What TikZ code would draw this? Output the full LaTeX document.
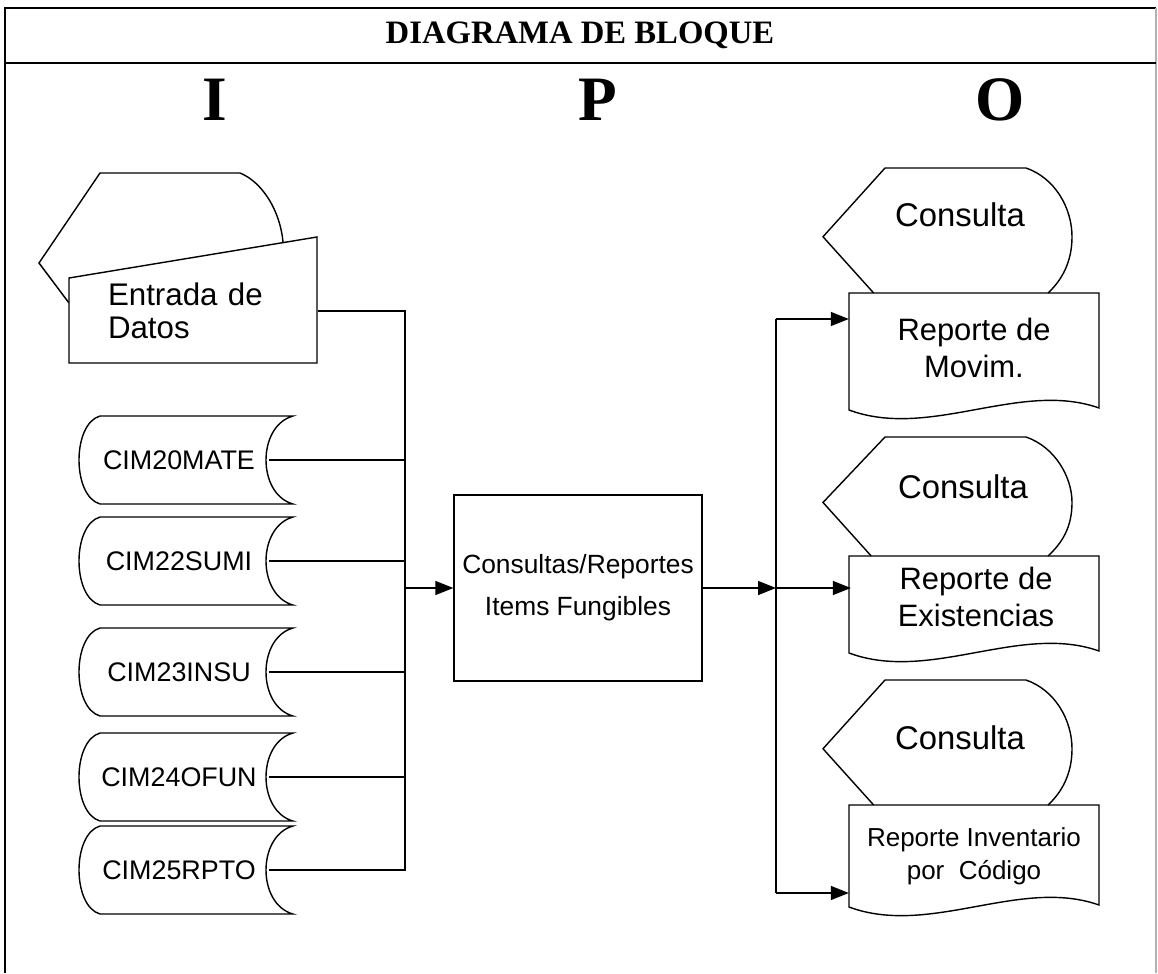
\documentclass[tikz,border=0pt]{standalone}
\usepackage{fontspec}
\setmainfont{Liberation Serif}
\newfontfamily\arialfam{Liberation Sans}
\usetikzlibrary{arrows.meta, positioning}

\tikzset{
    flecha/.style={-{Triangle[length=0.36cm, width=0.28cm]}},
    letra/.style={font=\bfseries\fontsize{36}{38}\selectfont, inner sep=0pt},
    archivo/.style={font=\arialfam\fontsize{15.3}{18}\selectfont, minimum width=3.56cm, inner sep=0pt},
    consulta/.style={font=\arialfam\fontsize{18.7}{22}\selectfont, inner sep=0pt},
    reporte/.style={font=\arialfam\fontsize{17.6}{21}\selectfont, minimum width=4.98cm, inner sep=0pt, align=center},
}

\begin{document}
\begin{tikzpicture}[x=0.02cm, y=-0.02cm, line width=0.8pt]
    \useasboundingbox (0,0) rectangle (1158,973);
    \draw[line width=1.1pt] (5,973) -- (5,8) -- (1156,8);
    \draw[gray!60, line width=0.6pt] (1156,8) -- (1156,973);
    \draw[line width=1.1pt] (5,63) -- (1156,63);
    \node[font=\bfseries\fontsize{18.6}{20}\selectfont, inner sep=0pt] (titulo) at (580,35) {DIAGRAMA DE BLOQUE};
    \node[letra] (letraI) at (215,100) {I};
    \node[letra] (letraP) at (598,100) {P};
    \node[letra] (letraO) at (1000,100) {O};

    % entrada de datos
    \draw (69,303) -- (39,263) -- (100,173) -- (240,173) .. controls (262,182) and (280,210) .. (283,242);
    \draw[fill=white] (69,278) -- (317,237) -- (317,363) -- (69,363) -- cycle;
    \node[font=\arialfam\fontsize{17.8}{18.5}\selectfont, inner xsep=0.78cm, inner ysep=0pt,
        text width=3.4cm, align=left] (entrada) at (193,311) {Entrada de\\Datos};

    % archivos
    \foreach \n/\txt/\y in {cim20/CIM20MATE/460, cim22/CIM22SUMI/561, cim23/CIM23INSU/672,
        cim24/CIM24OFUN/777, cim25/CIM25RPTO/870} {
        \draw (293,\y-44) -- (100,\y-44) .. controls (72,\y-36) and (72,\y+36) .. (100,\y+44)
            -- (293,\y+44) .. controls (257,\y+34) and (257,\y-34) .. cycle;
        \node[archivo] (\n) at (179,\y) {\txt};
    }

    \node[draw, font=\arialfam\fontsize{15}{24}\selectfont, minimum width=4.96cm, minimum height=3.72cm,
        align=center] (proc) at (578,588) {Consultas/Reportes\\Items Fungibles};

    % salidas
    \foreach \t/\d/\b in {168/293/410, 437/556/653, 680/805/907} {
        \pgfmathsetmacro{\m}{\t+0.55*(\d-\t)}
        \pgfmathsetmacro{\xl}{823+0.9*(\d-\m)}
        \draw (\xl,\d) -- (823,\m) -- (885,\t) -- (1026,\t) .. controls (1055,\t+10) and (1072,\t+40) .. (1072,\m)
            .. controls (1072,\m+25) and (1062,\d-13) .. (1048,\d);
        \draw (849,\b) -- (849,\d) -- (1099,\d) -- (1099,\b-2) .. controls (1020,\b-30) and (930,\b+30) .. cycle;
    }
    \node[consulta] (cons1) at (960,215) {Consulta};
    \node[consulta] (cons2) at (963,487) {Consulta};
    \node[consulta] (cons3) at (960,738) {Consulta};
    \node[reporte] (rep1) at (974,348) {Reporte de\\Movim.};
    \node[reporte] (rep2) at (976,597) {Reporte de\\Existencias};
    \node[reporte, font=\arialfam\fontsize{14.8}{18.7}\selectfont] (rep3) at (974,856) {Reporte Inventario\\por\ \ Código};

    % conexiones
    \coordinate (busin) at (405,311);
    \draw (entrada.east) -- (busin) -- (busin |- cim25.east) -- (cim25.east);
    \foreach \n in {cim20, cim22, cim23, cim24} {
        \draw (\n.east) -- (\n.east -| busin);
    }
    \draw[flecha] (proc.west -| busin) -- (proc.west);

    \coordinate (bus1) at (776,319);
    \coordinate (bus3) at (776,893);
    \draw (bus1) -- (bus3);
    \draw[flecha] (proc.east) -- (proc.east -| bus1);
    \draw[flecha] (proc.east -| bus1) -- (proc.east -| rep2.west);
    \draw[flecha] (bus1) -- (bus1 -| rep1.west);
    \draw[flecha] (bus3) -- (bus3 -| rep3.west);
\end{tikzpicture}
\end{document}
